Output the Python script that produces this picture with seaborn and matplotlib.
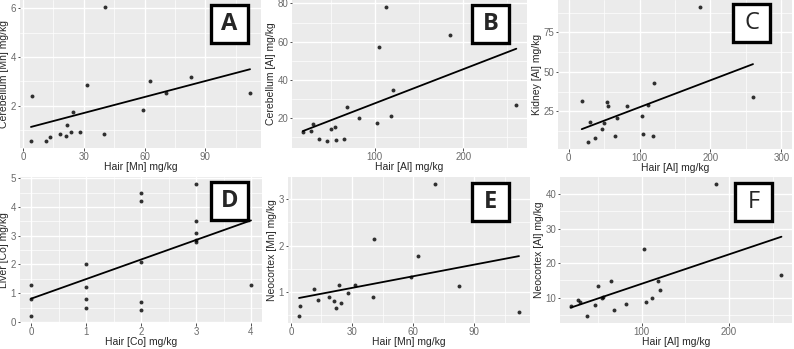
import pandas as pd
import seaborn as sns
import matplotlib.pyplot as plt
from matplotlib.ticker import MultipleLocator, AutoMinorLocator
from matplotlib.patches import Rectangle

# hair Mn (shared by A and E)
hair_mn = [4.0, 4.3, 11.2, 13.2, 18.5, 21.1, 22.0, 23.5, 24.7, 28.0, 31.5,
           40.2, 40.6, 59.0, 62.6, 70.7, 82.7, 112.0]
cerebellum_mn = [0.53, 2.38, 0.55, 0.72, 0.84, 0.74, 1.22, 0.91, 1.73, 0.93, 2.85,
                 0.85, 6.07, 1.81, 3.00, 2.50, 3.16, 2.53]
neocortex_mn = [0.48, 0.71, 1.06, 0.84, 0.89, 0.81, 0.67, 1.16, 0.77, 0.99, 1.16,
                0.89, 2.14, 1.33, 1.78, 3.33, 1.13, 0.58]

# hair Al (shared by B, C and F)
hair_al = [18.5, 27.5, 29.8, 36.8, 46.5, 50.0, 54.5, 55.7, 64.7, 68.6, 81.7,
           102.8, 104.8, 112.3, 118.6, 120.7, 185.0, 260.0]
cerebellum_al = [12.3, 13.2, 16.6, 9.0, 7.6, 13.9, 15.3, 8.3, 9.0, 25.7, 19.6,
                 17.0, 57.0, 78.3, 21.0, 34.5, 63.6, 26.8]
kidney_al = [31.6, 5.3, 18.4, 8.3, 13.8, 17.2, 31.1, 28.0, 9.1, 20.6, 28.0,
             22.2, 10.8, 29.0, 9.3, 43.2, 91.3, 33.7]
neocortex_al = [7.7, 9.3, 8.9, 4.6, 7.9, 13.5, 10.0, 10.2, 14.7, 6.3, 8.3,
                24.0, 8.7, 9.8, 14.7, 12.1, 43.0, 16.7]

# hair Co / liver Co (D)
hair_co = [0, 0, 0, 1, 1, 1, 1, 2, 2, 2, 2, 2, 3, 3, 3, 3, 3, 4]
liver_co = [1.3, 0.8, 0.2, 2.0, 1.2, 0.8, 0.5, 4.5, 4.2, 2.1, 0.7, 0.4,
            4.8, 3.5, 3.1, 2.85, 2.8, 1.3]

sns.set_theme(style="darkgrid", rc={
    "axes.facecolor": "#EBEBEB",
    "grid.color": "white",
    "xtick.bottom": True,
    "ytick.left": True,
    "xtick.major.size": 1.8,
    "ytick.major.size": 1.8,
    "xtick.major.width": 0.6,
    "ytick.major.width": 0.6,
    "xtick.color": "#333333",
    "ytick.color": "#333333",
    "xtick.labelcolor": "#6b6b6b",
    "ytick.labelcolor": "#6b6b6b",
    "xtick.major.pad": 0.8,
    "ytick.major.pad": 1.0,
})
plt.rcParams["font.family"] = ["Liberation Sans", "DejaVu Sans"]

W, H = 794, 349
fig = plt.figure(figsize=(W / 100, H / 100), dpi=100)


def px_axes(left, top, right, bottom):
    return fig.add_axes([left / W, 1 - bottom / H, (right - left) / W, (bottom - top) / H])


def letter_box(x0, y0, letter, bold):
    fig.add_artist(Rectangle((x0 / W, 1 - (y0 + 38) / H), 37 / W, 38 / H,
                             transform=fig.transFigure, facecolor="white",
                             edgecolor="black", linewidth=2.4, zorder=10))
    fig.text((x0 + 18.5) / W, 1 - (y0 + 19) / H, letter, ha="center", va="center",
             fontsize=17, fontweight="bold" if bold else "normal",
             family=["Open Sans", "DejaVu Sans"], zorder=11)


panels = [
    (hair_mn, cerebellum_mn, "Hair [Mn] mg/kg", "Cerebellum [Mn] mg/kg",
     (20, 0, 261, 148), 30, 2, None, "A", True, (211, 5)),
    (hair_al, cerebellum_al, "Hair [Al] mg/kg", "Cerebellum [Al] mg/kg",
     (292, 0, 527, 148), 100, 20, None, "B", True, (472, 5)),
    (hair_al, kidney_al, "Hair [Al] mg/kg", "Kidney [Al] mg/kg",
     (558, 0, 792, 149), 100, 25, (-15, 315), "C", False, (733, 4)),
    (hair_co, liver_co, "Hair [Co] mg/kg", "Liver [Co] mg/kg",
     (20, 177, 262, 323), 1, 1, None, "D", True, (211, 182)),
    (hair_mn, neocortex_mn, "Hair [Mn] mg/kg", "Neocortex [Mn] mg/kg",
     (288, 177, 530, 323), 30, 1, None, "E", True, (472, 183)),
    (hair_al, neocortex_al, "Hair [Al] mg/kg", "Neocortex [Al] mg/kg",
     (560, 177, 792, 323), 100, 10, None, "F", False, (735, 183)),
]

for x, y, xl, yl, rect, xstep, ystep, xlim, letter, bold, boxpos in panels:
    ax = px_axes(*rect)
    df = pd.DataFrame({"x": x, "y": y})
    sns.regplot(data=df, x="x", y="y", ci=None, ax=ax,
                scatter_kws={"s": 8, "color": "black", "linewidths": 0},
                line_kws={"color": "black", "linewidth": 1.3})
    if xlim:
        ax.set_xlim(*xlim)
    if letter == "D":
        ax.set_ylim(-0.04, 5.05)
    ax.xaxis.set_major_locator(MultipleLocator(xstep))
    ax.yaxis.set_major_locator(MultipleLocator(ystep))
    ax.xaxis.set_minor_locator(AutoMinorLocator(2))
    ax.yaxis.set_minor_locator(AutoMinorLocator(2))
    ax.tick_params(which="minor", length=0)
    ax.grid(which="major", color="white", linewidth=1.0)
    ax.grid(which="minor", color="white", linewidth=0.5)
    ax.tick_params(which="major", labelsize=7)
    ax.set_xlabel(xl, fontsize=7.5, color="#262626", labelpad=0.5)
    ax.set_ylabel(yl, fontsize=7.5, color="#262626", labelpad=1.0)
    for s in ax.spines.values():
        s.set_visible(False)
    letter_box(boxpos[0], boxpos[1], letter, bold)

fig.savefig("out.png", dpi=100)
